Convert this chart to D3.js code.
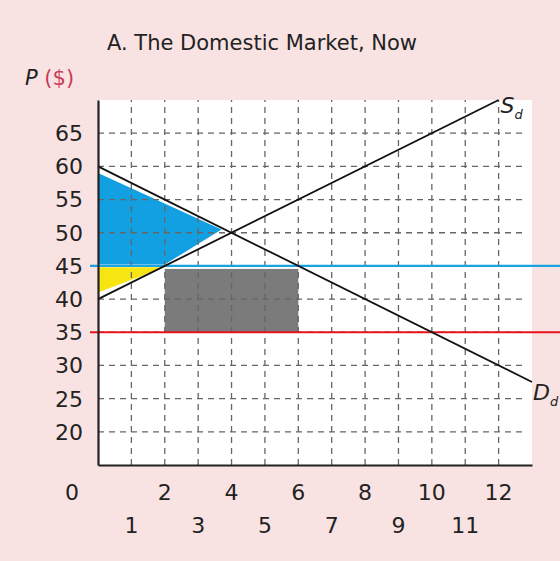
<!DOCTYPE html>
<html>
<head>
<meta charset="utf-8">
<script src="https://cdn.jsdelivr.net/npm/d3@7"></script>
<style>
  html, body { margin: 0; padding: 0; background: #f9e3e2; }
  svg { display: block; font-family: "DejaVu Sans", Verdana, sans-serif; }
</style>
</head>
<body>
<svg id="chart"></svg>
<script>
// chart data
const xTicksEven = [0, 2, 4, 6, 8, 10, 12];
const xTicksOdd = [1, 3, 5, 7, 9, 11];
const yTicks = [20, 25, 30, 35, 40, 45, 50, 55, 60, 65];
const supplyLine = [[0, 40], [12, 70]];
const demandLine = [[0, 60], [13, 27.5]];
const worldPrice = 35;
const tariffPrice = 45;
const consumerArea = [[0, 59], [3.7, 50.5], [2, 45.2], [0, 45.2]];
const producerArea = [[0, 44.8], [2, 44.8], [0, 41]];
const revenueArea = [[2, 45], [6, 35]];

const W = 560, H = 561;
const margin = { top: 100, right: 28, bottom: 96, left: 98 };

const svg = d3.select("#chart").attr("width", W).attr("height", H);

const x = d3.scaleLinear().domain([0, 13]).range([margin.left, W - margin.right]);
const y = d3.scaleLinear().domain([15, 70]).range([H - margin.bottom, margin.top]);

// plot background
svg.append("rect")
    .attr("x", x(0)).attr("y", y(70))
    .attr("width", x(13) - x(0)).attr("height", y(15) - y(70))
    .attr("fill", "#ffffff");

const line = d3.line().x(d => x(d[0])).y(d => y(d[1]));

// shaded areas
svg.append("path").attr("d", line(consumerArea) + "Z").attr("fill", "#12a0e2");
svg.append("path").attr("d", line(producerArea) + "Z").attr("fill", "#f7e413");
svg.append("rect")
    .attr("x", x(revenueArea[0][0])).attr("y", y(revenueArea[0][1]) + 3)
    .attr("width", x(revenueArea[1][0]) - x(revenueArea[0][0]))
    .attr("height", y(revenueArea[1][1]) - y(revenueArea[0][1]) - 3)
    .attr("fill", "#7b7b7b");

// grid
const grid = svg.append("g")
    .attr("stroke", "#666").attr("stroke-width", 1.3).attr("stroke-dasharray", "6,5");
grid.selectAll(".v").data(d3.range(1, 13)).enter().append("line")
    .attr("x1", d => x(d)).attr("x2", d => x(d))
    .attr("y1", y(15)).attr("y2", y(70));
grid.selectAll(".h").data(yTicks).enter().append("line")
    .attr("x1", x(0)).attr("x2", x(13) - 6)
    .attr("y1", d => y(d)).attr("y2", d => y(d));

// price lines
svg.append("line")
    .attr("x1", x(0) - 8).attr("x2", W).attr("y1", y(tariffPrice)).attr("y2", y(tariffPrice))
    .attr("stroke", "#1aa3e0").attr("stroke-width", 2.2);
svg.append("line")
    .attr("x1", x(0) - 8).attr("x2", W).attr("y1", y(worldPrice)).attr("y2", y(worldPrice))
    .attr("stroke", "#e8141c").attr("stroke-width", 2.2);

// supply and demand
svg.append("path").attr("d", line(supplyLine))
    .attr("fill", "none").attr("stroke", "#111").attr("stroke-width", 1.8);
svg.append("path").attr("d", line(demandLine))
    .attr("fill", "none").attr("stroke", "#111").attr("stroke-width", 1.8);

// axes
const axisX = svg.append("g").attr("transform", `translate(0,${y(15)})`)
    .call(d3.axisBottom(x).tickValues([]).tickSizeOuter(0));
const axisY = svg.append("g").attr("transform", `translate(${x(0)},0)`)
    .call(d3.axisLeft(y).tickValues([]).tickSizeOuter(0));
[axisX, axisY].forEach(a => a.select(".domain").attr("stroke", "#222").attr("stroke-width", 2.2));

// tick labels
svg.selectAll(".ylab").data(yTicks).enter().append("text")
    .attr("x", 83).attr("y", d => y(d)).attr("dy", "0.36em")
    .attr("text-anchor", "end").attr("font-size", 22).attr("fill", "#222")
    .text(d => d);
svg.selectAll(".xlab0").data(xTicksEven).enter().append("text")
    .attr("x", d => d === 0 ? 72 : x(d)).attr("y", 492).attr("dy", "0.36em")
    .attr("text-anchor", "middle").attr("font-size", 22).attr("fill", "#222")
    .text(d => d);
svg.selectAll(".xlab1").data(xTicksOdd).enter().append("text")
    .attr("x", d => x(d)).attr("y", 525).attr("dy", "0.36em")
    .attr("text-anchor", "middle").attr("font-size", 22).attr("fill", "#222")
    .text(d => d);

// title and axis label
svg.append("text").attr("x", 262).attr("y", 42).attr("dy", "0.36em")
    .attr("text-anchor", "middle").attr("font-size", 21).attr("fill", "#222")
    .text("A. The Domestic Market, Now");
const pl = svg.append("text").attr("x", 25).attr("y", 77).attr("dy", "0.36em")
    .attr("font-size", 21).attr("fill", "#222");
pl.append("tspan").attr("font-style", "italic").text("P");
pl.append("tspan").attr("fill", "#c83c58").text(" ($)");

// curve labels
const sl = svg.append("text").attr("x", x(12) + 2).attr("y", 113).attr("font-size", 22)
    .attr("font-style", "italic").attr("fill", "#222");
sl.append("tspan").text("S");
sl.append("tspan").attr("font-size", 13).attr("dy", 6).text("d");
const dl = svg.append("text").attr("x", x(13) + 1).attr("y", 400).attr("font-size", 22)
    .attr("font-style", "italic").attr("fill", "#222");
dl.append("tspan").text("D");
dl.append("tspan").attr("font-size", 13).attr("dy", 6).text("d");
</script>
</body>
</html>
